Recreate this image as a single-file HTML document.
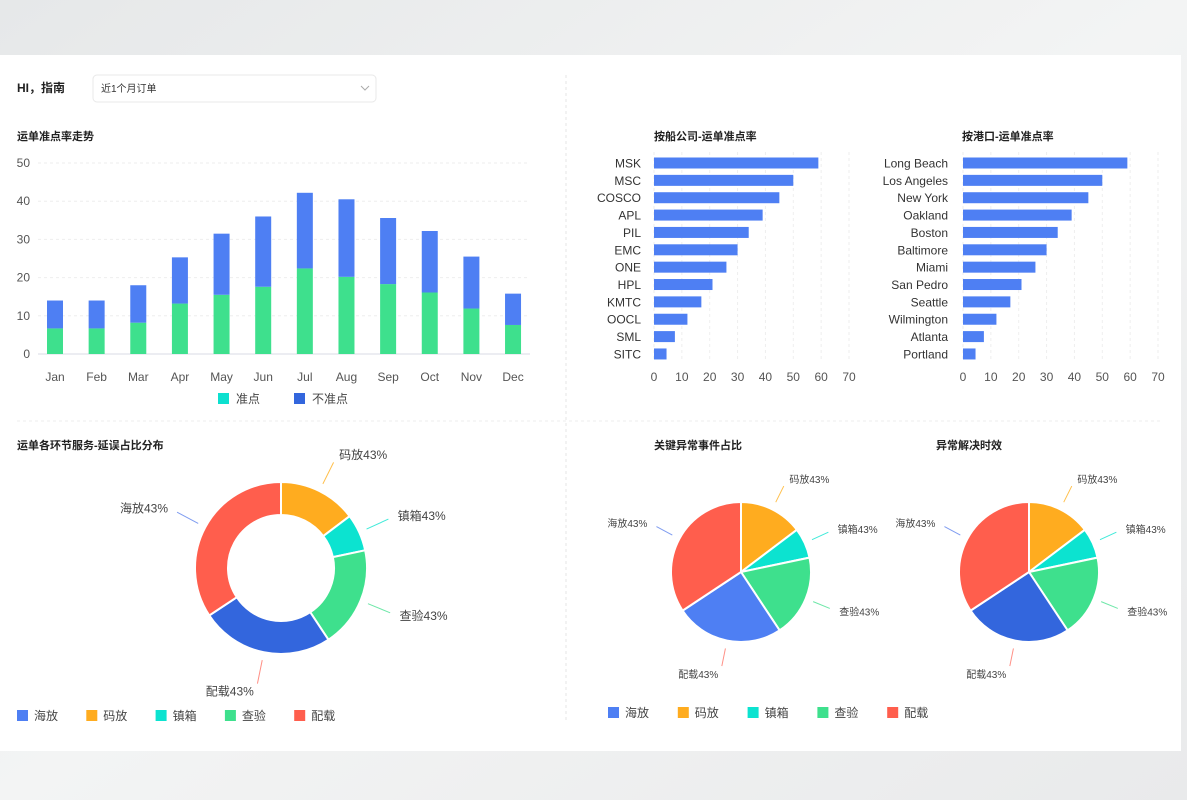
<!DOCTYPE html>
<html><head><meta charset="utf-8">
<style>
html,body{margin:0;padding:0;width:1187px;height:800px;overflow:hidden;background:#ebeced;}
body{font-family:"Liberation Sans","Noto Sans CJK SC",sans-serif;}
svg{display:block;}
svg text{font-family:"Liberation Sans","Noto Sans CJK SC",sans-serif;}
</style></head>
<body>
<svg id="root" width="1187" height="800" viewBox="0 0 1187 800" xmlns="http://www.w3.org/2000/svg">
  <defs>
    <linearGradient id="bg" x1="0" y1="0" x2="1" y2="1">
      <stop offset="0" stop-color="#e6e8e9"/><stop offset="0.5" stop-color="#f3f4f4"/><stop offset="1" stop-color="#e9eaeb"/>
    </linearGradient>
  </defs>
  <rect x="0" y="0" width="1187" height="800" fill="url(#bg)"/>
  <rect x="0" y="55" width="1181" height="696" fill="#ffffff"/>
  <line x1="566" y1="75" x2="566" y2="720" stroke="#e6e6e6" stroke-dasharray="3,3"/>
  <line x1="17" y1="421" x2="1160" y2="421" stroke="#eeeeee" stroke-dasharray="3,3"/>

  <text x="17" y="92" font-size="12" font-weight="bold" fill="#222">HI，指南</text>
  <g>
    <rect x="93" y="75" width="283" height="27" rx="4" fill="#fff" stroke="#e8e8e8"/>
    <text x="101" y="92" font-size="10" fill="#333">近1个月订单</text>
    <path d="M361 86 l4 4 l4 -4" fill="none" stroke="#aaa" stroke-width="1"/>
  </g>

  <text x="17" y="140" font-size="11" font-weight="bold" fill="#222">运单准点率走势</text>
  <g id="trend"></g>

  <text x="654" y="140" font-size="11" font-weight="bold" fill="#222">按船公司-运单准点率</text>
  <text x="962" y="140" font-size="11" font-weight="bold" fill="#222">按港口-运单准点率</text>
  <g id="carrier"></g>
  <g id="port"></g>

  <text x="17" y="449" font-size="11" font-weight="bold" fill="#222">运单各环节服务-延误占比分布</text>
  <text x="654" y="449" font-size="11" font-weight="bold" fill="#222">关键异常事件占比</text>
  <text x="936" y="449" font-size="11" font-weight="bold" fill="#222">异常解决时效</text>
  <g id="donut"></g>
  <g id="pie1"></g>
  <g id="pie2"></g>
  <g id="legends"></g>
</svg>
<script>
const months = ["Jan","Feb","Mar","Apr","May","Jun","Jul","Aug","Sep","Oct","Nov","Dec"];
const onTime = [6.7,6.7,8.2,13.2,15.5,17.6,22.4,20.2,18.3,16.1,11.9,7.6];
const late = [7.3,7.3,9.8,12.1,16.0,18.4,19.8,20.3,17.3,16.1,13.6,8.2];
const yTicks = [0,10,20,30,40,50];
const carriers = ["MSK","MSC","COSCO","APL","PIL","EMC","ONE","HPL","KMTC","OOCL","SML","SITC"];
const carrierVals = [59,50,45,39,34,30,26,21,17,12,7.5,4.5];
const ports = ["Long Beach","Los Angeles","New York","Oakland","Boston","Baltimore","Miami","San Pedro","Seattle","Wilmington","Atlanta","Portland"];
const portVals = [59,50,45,39,34,30,26,21,17,12,7.5,4.5];
const xTicks = [0,10,20,30,40,50,60,70];
const sliceNames = ["码放","镇箱","查验","配载","海放"];
const sliceVals = [14.7,7,19,25,34.3];
const sliceLabels = ["码放43%","镇箱43%","查验43%","配载43%","海放43%"];
const legendNames = ["海放","码放","镇箱","查验","配载"];

const NS="http://www.w3.org/2000/svg";
function mk(parent,tag,attrs,text){const e=document.createElementNS(NS,tag);for(const k in attrs)e.setAttribute(k,attrs[k]);if(text!==undefined)e.textContent=text;parent.appendChild(e);return e;}

// trend chart
(function(){
  const g=document.getElementById('trend');
  const x0=38,x1=530,yb=354,yt=163;
  const y=v=>yb-(v/50)*(yb-yt);
  const step=41.64;
  const cx=i=>55+step*i;
  yTicks.forEach(t=>{
    const l=mk(g,'line',{x1:x0,x2:x1,y1:y(t),y2:y(t),stroke:t===0?'#d8dbe6':'#eeeeee','stroke-dasharray':t===0?'':'3,3'});
    
    
    const tx=mk(g,'text',{x:30,y:y(t)+4,'font-size':12,fill:'#555','text-anchor':'end'},t);
    
    
  });
  months.forEach((m,i)=>{
    const bw=16;
    const r1=mk(g,'rect',{x:cx(i)-bw/2,y:y(onTime[i]),width:bw,height:yb-y(onTime[i]),fill:'#3ee08d'});
    
    
    const r2=mk(g,'rect',{x:cx(i)-bw/2,y:y(onTime[i]+late[i]),width:bw,height:y(onTime[i])-y(onTime[i]+late[i]),fill:'#4e7ff3'});
    
    
    const t=mk(g,'text',{x:cx(i),y:381,'font-size':12,fill:'#555','text-anchor':'middle'},m);
    
    
  });
  const l1=mk(g,'rect',{x:218,y:393,width:11,height:11,fill:'#0de0cf'});
  
  
  const l1t=mk(g,'text',{x:236,y:403,'font-size':12,fill:'#444'},'准点');
  
  
  const l2=mk(g,'rect',{x:294,y:393,width:11,height:11,fill:'#3366dd'});
  
  
  const l2t=mk(g,'text',{x:312,y:403,'font-size':12,fill:'#444'},'不准点');
  
  
})();

// horizontal bars
function hbar(id,cats,vals,x0,labelX){
  const g=document.getElementById(id);
  const x1=x0+195;
  const x=v=>x0+(v/70)*(x1-x0);
  const rowY=i=>163+i*17.36;
  xTicks.forEach(t=>{
    const l=mk(g,'line',{x1:x(t),x2:x(t),y1:152,y2:362,stroke:'#eeeeee','stroke-dasharray':'3,3'});
    
    
    const tx=mk(g,'text',{x:x(t),y:381,'font-size':12,fill:'#555','text-anchor':'middle'},t);
    
    
  });
  cats.forEach((c,i)=>{
    const r=mk(g,'rect',{x:x0,y:rowY(i)-5.5,width:x(vals[i])-x0,height:11,fill:'#4e7ff3'});
    
    
    const t=mk(g,'text',{x:labelX,y:rowY(i)+4.5,'font-size':12,fill:'#333','text-anchor':'end'},c);
    
    
  });
}
hbar('carrier',carriers,carrierVals,654,641);
hbar('port',ports,portVals,963,948);

// pies
const sliceColors1=["#ffac1f","#0ce3d0","#3ee08d","#4e7ff3","#ff5e4d"];
const sliceColors2=["#ffac1f","#0ce3d0","#3ee08d","#3366dd","#ff5e4d"];
const lineColors=["#ffc04d","#40ead9","#6ee7a8","#ff8f85","#7f9cf0"];
function pie(id,cx,cy,r,ri,colors,fs,lblR,l0,l1){
  const g=document.getElementById(id);
  const total=sliceVals.reduce((a,b)=>a+b,0);
  let a=0;
  const pt=(ang,rad)=>[cx+rad*Math.sin(ang),cy-rad*Math.cos(ang)];
  sliceVals.forEach((v,i)=>{
    const a0=a/total*2*Math.PI; a+=v; const a1=a/total*2*Math.PI;
    const large=(a1-a0)>Math.PI?1:0;
    const [ox0,oy0]=pt(a0,r),[ox1,oy1]=pt(a1,r);
    let d;
    if(ri>0){const [ix1,iy1]=pt(a1,ri),[ix0,iy0]=pt(a0,ri);
      d=`M${ox0} ${oy0} A${r} ${r} 0 ${large} 1 ${ox1} ${oy1} L${ix1} ${iy1} A${ri} ${ri} 0 ${large} 0 ${ix0} ${iy0}Z`;}
    else d=`M${cx} ${cy} L${ox0} ${oy0} A${r} ${r} 0 ${large} 1 ${ox1} ${oy1}Z`;
    const p=mk(g,'path',{d:d,fill:colors[i],stroke:'#fff','stroke-width':2});
    
    
    const am=(a0+a1)/2;
    const [lx0,ly0]=pt(am,r+l0),[lx1,ly1]=pt(am,r+l1);
    const ln=mk(g,'line',{x1:lx0,y1:ly0,x2:lx1,y2:ly1,stroke:lineColors[i],'stroke-width':1});
    
    
    const [tx,ty]=pt(am,r+lblR);
    const right=Math.sin(am)>=0;
    const t=mk(g,'text',{x:tx+(right?2:-2),y:ty+4,'font-size':fs,fill:'#444','text-anchor':right?'start':'end'},sliceLabels[i]);
    
    
  });
}
pie('donut',281,568,86,53,sliceColors2,12,40,8,32);
pie('pie1',741,572,70,0,sliceColors1,10,34,8,26);
pie('pie2',1029,572,70,0,sliceColors2,10,34,8,26);

// legends
const legColors=["#4e7ff3","#ffac1f","#0ce3d0","#3ee08d","#ff5e4d"];
(function(){
  const g=document.getElementById('legends');
  legendNames.forEach((n,i)=>{
    const s1=mk(g,'rect',{x:17+i*69.3,y:710,width:11,height:11,fill:legColors[i]});
    
    
    const t1=mk(g,'text',{x:34+i*69.3,y:720,'font-size':12,fill:'#444'},n);
    
    
    const s2=mk(g,'rect',{x:608+i*69.8,y:707,width:11,height:11,fill:legColors[i]});
    
    
    const t2=mk(g,'text',{x:625+i*69.8,y:717,'font-size':12,fill:'#444'},n);
    
    
  });
})();
</script>
</body></html>
